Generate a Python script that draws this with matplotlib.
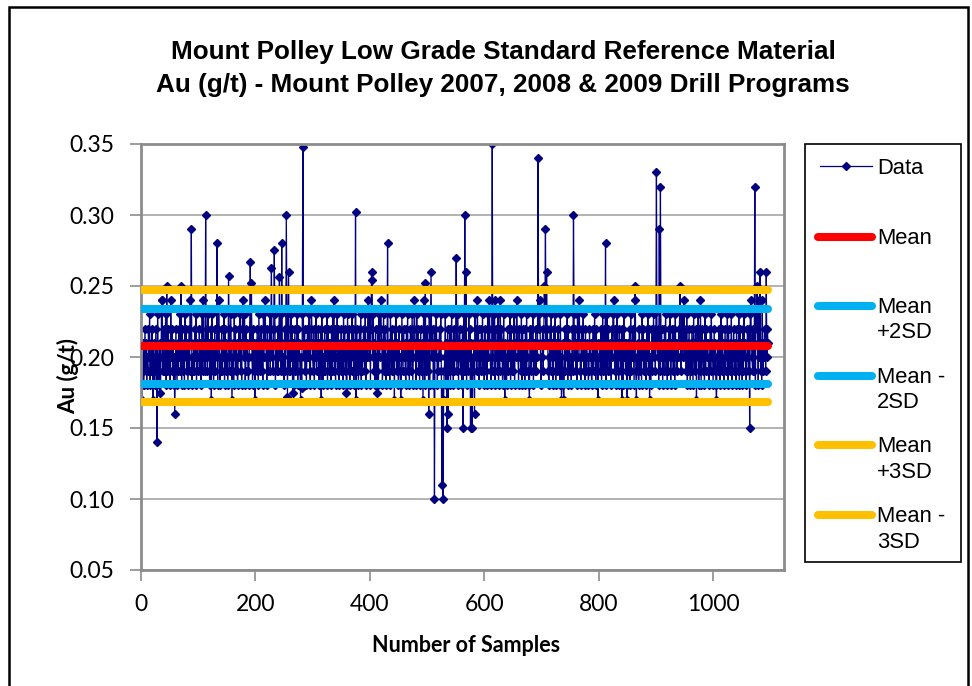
import matplotlib
matplotlib.use("Agg")
import matplotlib.pyplot as plt
from matplotlib import font_manager as fm
from matplotlib.lines import Line2D
from matplotlib.patches import Rectangle

# ---------------- data ----------------
# Au assay per sample, coded as hundredths above 0.17 g/t (0 -> 0.17 ... 8 -> 0.25)
AU_LEVEL_CODES = [
    "1024135241 3253614253 0421352463 1245317235 2361425324 1735241362 5314253624 1532416352 4135274613 2425361423",
    "3524136273 4213526341 2506241352 4361574132 5243615243 2135246302 4163524213 5362415743 6125342135 2463152403",
    "4253164235 2416357431 5243625134 2506142352 4136254231 5247615324 2635141352 4261534203 1624352413 5346215743",
    "2513462435 1425064132 5243615423 4152637251 3462514325 2416352431 6425134263 5142605241 3526142354 2614357436",
    "1524362415 3425163475 4136254132 5243164253 2405362431 5324164253 4215362413 5246135743 1635241352 4203614235",
    "2436152435 1425364132 4536241302 3614253425 1362415243 5246135324 1536242513 4263514253 2416352435 1342536241",
    "5324163574 2135246315 3426152435 4136204213 5243615324 2614357431 5342615243 1526342105 4253614325 2431657413",
    "3524162435 4213526341 2536142352 4163524102 5243615243 2135246352 4163574213 5362415243 3125342135 2463152403",
    "3425136245 2314625342 4153674251 3624153425 2516342413 4235162435 3146203241 5234163524 2415362543 1352463524",
    "2435162435 3142536241 4253614352 2516342435 4132563424 3526142531 4253164235 2436152413 5324162534 4213526341",
    "3524163425 4136254213 5243615324 2614352431 5342615243 1526342135 4253614325 2431652413 3524162435 421354",
]
# Outlying / distinct samples: sample index -> Au (g/t)
AU_SPIKES = {
    27: 0.14, 33: 0.175, 35: 0.24, 44: 0.25, 58: 0.16, 69: 0.25, 87: 0.29,
    112: 0.30, 132: 0.28, 152: 0.257, 190: 0.267, 192: 0.252, 227: 0.263,
    232: 0.275, 241: 0.256, 245: 0.28, 253: 0.30, 255: 0.172, 257: 0.26,
    264: 0.175, 280: 0.178, 282: 0.348, 358: 0.175, 374: 0.302, 402: 0.26,
    403: 0.254, 411: 0.175, 430: 0.28, 453: 0.17, 493: 0.24, 496: 0.252,
    502: 0.16, 506: 0.26, 512: 0.10, 525: 0.11, 527: 0.10, 534: 0.15,
    536: 0.16, 550: 0.27, 562: 0.15, 565: 0.30, 567: 0.26, 575: 0.15,
    578: 0.15, 582: 0.16, 587: 0.24, 613: 0.35, 617: 0.24, 627: 0.24,
    693: 0.34, 704: 0.25, 706: 0.29, 708: 0.26, 734: 0.17, 755: 0.30,
    811: 0.28, 840: 0.17, 849: 0.17, 862: 0.24, 863: 0.25, 888: 0.17,
    900: 0.33, 905: 0.29, 907: 0.32, 941: 0.25, 948: 0.24, 970: 0.17,
    977: 0.24, 1005: 0.17, 1063: 0.15, 1065: 0.24, 1072: 0.32, 1076: 0.25,
    1079: 0.24, 1081: 0.26, 1085: 0.24, 1092: 0.26, 1093: 0.20,
}
STAT_LABELS = ["Mean", "Mean +2SD", "Mean - 2SD", "Mean +3SD", "Mean - 3SD"]
STAT_VALUES = [0.2075, 0.234, 0.181, 0.247, 0.168]
STAT_COLORS = ["#FF0000", "#00B0F0", "#00B0F0", "#FFC000", "#FFC000"]
LEGEND_TEXT = [["Data"], ["Mean"], ["Mean", "+2SD"], ["Mean -", "2SD"],
               ["Mean", "+3SD"], ["Mean -", "3SD"]]
X_TICKS = [0, 200, 400, 600, 800, 1000]
Y_TICKS = [0.05, 0.10, 0.15, 0.20, 0.25, 0.30, 0.35]
TITLE_LINES = ["Mount Polley Low Grade Standard Reference Material",
               "Au (g/t) - Mount Polley 2007, 2008 & 2009 Drill Programs"]
X_LABEL = "Number of Samples"
Y_LABEL = "Au (g/t)"


# ---------------- fonts (avoid the "Narrow" variant of Liberation Sans) ----------------
def arial_like(bold):
    want = "bold" if bold else "normal"
    for f in fm.fontManager.ttflist:
        if f.name == "Liberation Sans" and "Narrow" not in f.fname and f.style == "normal":
            w = f.weight
            isbold = (w == "bold" or (isinstance(w, int) and w >= 600))
            if isbold == bold:
                return fm.FontProperties(fname=f.fname)
    return fm.FontProperties(family="DejaVu Sans", weight=want)


ARIAL = arial_like(False)
ARIAL_B = arial_like(True)

# ---------------- build series ----------------
codes = "".join(AU_LEVEL_CODES).replace(" ", "")
au = [round(0.17 + 0.01 * int(c), 3) for c in codes]
for i, v in AU_SPIKES.items():
    au[i] = v
samples = list(range(1, len(au) + 1))

W, H = 972, 686
fig = plt.figure(figsize=(W / 100, H / 100), dpi=100)
fig.patch.set_facecolor("white")


def fx(px):
    return px / W


def fy(py):
    return 1 - py / H


ax = fig.add_axes([fx(141), fy(570), fx(784) - fx(141), fy(144) - fy(570)])
NAVY = "#000080"
ax.plot(samples, au, color=NAVY, lw=0.9, marker="D", ms=3.8, mec=NAVY, mfc=NAVY, zorder=2)
for val, col in zip(STAT_VALUES, STAT_COLORS):
    ax.plot([samples[0], samples[-1]], [val, val], color=col, lw=5.8,
            solid_capstyle="round", zorder=3)

ax.set_xlim(0, 1124)
ax.set_ylim(0.05, 0.35)
ax.set_xticks(X_TICKS)
ax.set_yticks(Y_TICKS)
ax.set_yticklabels([f"{t:.2f}" for t in Y_TICKS])
ax.yaxis.grid(True, color="#a6a6a6", lw=1.2, zorder=0)
ax.set_axisbelow(True)
for s in ax.spines.values():
    s.set_color("#8c8c8c")
    s.set_linewidth(2)
ax.tick_params(axis="both", direction="out", length=8, width=1.2, color="#8c8c8c",
               labelsize=16.5)
ax.tick_params(axis="y", pad=11)
ax.tick_params(axis="x", pad=9)
for lab in ax.get_xticklabels() + ax.get_yticklabels():
    lab.set_family("Lato")

# titles and axis labels
for txt, base in zip(TITLE_LINES, [59, 92]):
    t = fig.text(fx(503), fy(base), txt, ha="center", va="baseline", fontproperties=ARIAL_B)
    t.set_fontsize(18.8)
fig.text(fx(466), fy(652), X_LABEL, ha="center", va="baseline",
         fontsize=15.5, fontweight="bold", family="Lato")
fig.text(fx(68), fy(376), Y_LABEL, ha="center", va="center", rotation=90,
         fontsize=16, fontweight="bold", family="Lato")

# legend (manual, Excel-style)
fig.add_artist(Rectangle((fx(805), fy(562)), fx(961) - fx(805), fy(144) - fy(562),
                         transform=fig.transFigure, fill=False, ec="black", lw=1.2))
handle_y = [166, 236.7, 305.7, 375.7, 445, 515]
fig.add_artist(Line2D([fx(820), fx(872)], [fy(166), fy(166)], transform=fig.transFigure,
                      color=NAVY, lw=0.9))
fig.add_artist(Line2D([fx(846)], [fy(166)], transform=fig.transFigure, color=NAVY,
                      marker="D", ms=3.8, lw=0))
for k, (val, col) in enumerate(zip(STAT_VALUES, STAT_COLORS)):
    y = handle_y[k + 1]
    fig.add_artist(Line2D([fx(818), fx(872)], [fy(y), fy(y)], transform=fig.transFigure,
                          color=col, lw=5.8, solid_capstyle="round"))
for lines, y in zip(LEGEND_TEXT, handle_y):
    for j, t in enumerate(lines):
        tt = fig.text(fx(877), fy(y + 7.5 + 25 * j), t, ha="left", va="baseline",
                      fontproperties=ARIAL)
        tt.set_fontsize(15.8)

# outer chart border
fig.add_artist(Rectangle((fx(9), fy(700)), fx(968) - fx(9), fy(7) - fy(700),
                         transform=fig.transFigure, fill=False, ec="black", lw=1.8,
                         clip_on=False))

fig.savefig("out.png", dpi=100)
